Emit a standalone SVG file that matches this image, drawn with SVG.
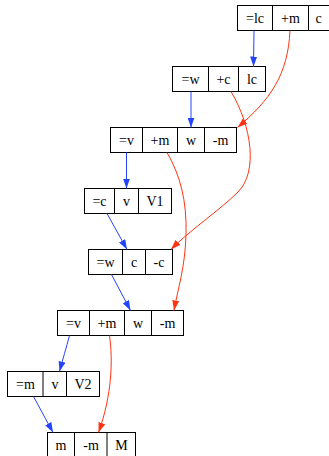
<svg xmlns="http://www.w3.org/2000/svg" width="329" height="456" viewBox="0 0 329 456">
<style>
.box{fill:#fff;stroke:#000;stroke-width:1}
.div{stroke:#000;stroke-width:1}
text{font-family:"Liberation Serif","Times New Roman",serif;font-size:14px;text-anchor:middle;fill:#000}
.b{fill:none;stroke:#2244ff;stroke-width:1;marker-end:url(#ab)}
.r{fill:none;stroke:#ff3311;stroke-width:1;marker-end:url(#ar)}
</style>
<defs>
<marker id="ab" markerUnits="userSpaceOnUse" markerWidth="10" markerHeight="7" refX="10" refY="3.5" orient="auto"><path d="M0,0 L10,3.5 L0,7 z" fill="#2244ff"/></marker>
<marker id="ar" markerUnits="userSpaceOnUse" markerWidth="10" markerHeight="7" refX="10" refY="3.5" orient="auto"><path d="M0,0 L10,3.5 L0,7 z" fill="#ff3311"/></marker>
</defs>
<rect width="329" height="456" fill="#fff"/>
<g id="nodeA">
<rect class="box" x="237.5" y="5.5" width="94" height="25"/>
<line class="div" x1="272.5" y1="5.5" x2="272.5" y2="30.5"/>
<line class="div" x1="308.5" y1="5.5" x2="308.5" y2="30.5"/>
<text x="255" y="23">=lc</text><text x="290.5" y="23">+m</text><text x="318.5" y="23">c</text>
</g>
<g id="nodeB">
<rect class="box" x="172.5" y="66.5" width="93" height="25"/>
<line class="div" x1="208.5" y1="66.5" x2="208.5" y2="91.5"/>
<line class="div" x1="238.5" y1="66.5" x2="238.5" y2="91.5"/>
<text x="190.5" y="84">=w</text><text x="223.5" y="84">+c</text><text x="252" y="84">lc</text>
</g>
<g id="nodeC">
<rect class="box" x="110.5" y="127.5" width="126" height="25"/>
<line class="div" x1="142.5" y1="127.5" x2="142.5" y2="152.5"/>
<line class="div" x1="177.5" y1="127.5" x2="177.5" y2="152.5"/>
<line class="div" x1="204.5" y1="127.5" x2="204.5" y2="152.5"/>
<text x="126.5" y="145">=v</text><text x="160" y="145">+m</text><text x="191" y="145">w</text><text x="220.5" y="145">-m</text>
</g>
<g id="nodeD">
<rect class="box" x="84.5" y="188.5" width="87" height="25"/>
<line class="div" x1="114.5" y1="188.5" x2="114.5" y2="213.5"/>
<line class="div" x1="138.5" y1="188.5" x2="138.5" y2="213.5"/>
<text x="99.5" y="206">=c</text><text x="126.5" y="206">v</text><text x="155" y="206">V1</text>
</g>
<g id="nodeE">
<rect class="box" x="88.5" y="249.5" width="84" height="25"/>
<line class="div" x1="122.5" y1="249.5" x2="122.5" y2="274.5"/>
<line class="div" x1="145.5" y1="249.5" x2="145.5" y2="274.5"/>
<text x="105.5" y="267">=w</text><text x="134" y="267">c</text><text x="159" y="267">-c</text>
</g>
<g id="nodeF">
<rect class="box" x="57.5" y="310.5" width="126" height="25"/>
<line class="div" x1="89.5" y1="310.5" x2="89.5" y2="335.5"/>
<line class="div" x1="124.5" y1="310.5" x2="124.5" y2="335.5"/>
<line class="div" x1="151.5" y1="310.5" x2="151.5" y2="335.5"/>
<text x="73.5" y="328">=v</text><text x="107" y="328">+m</text><text x="138" y="328">w</text><text x="167.5" y="328">-m</text>
</g>
<g id="nodeG">
<rect class="box" x="7.5" y="371.5" width="92" height="25"/>
<line class="div" x1="43" y1="371.5" x2="43" y2="396.5"/>
<line class="div" x1="66.5" y1="371.5" x2="66.5" y2="396.5"/>
<text x="25.5" y="389">=m</text><text x="55" y="389">v</text><text x="83" y="389">V2</text>
</g>
<g id="nodeH">
<rect class="box" x="47.5" y="432.5" width="88" height="25"/>
<line class="div" x1="74.5" y1="432.5" x2="74.5" y2="457.5"/>
<line class="div" x1="107" y1="432.5" x2="107" y2="457.5"/>
<text x="61" y="450">m</text><text x="91" y="450">-m</text><text x="121.5" y="450">M</text>
</g>
<g id="edges">
<path class="b" d="M254,30.5 L253.5,66.5"/>
<path class="b" d="M191,91.5 L191,127.5"/>
<path class="b" d="M126.5,152.5 L126.5,188.5"/>
<path class="b" d="M107,213.5 L127,249.5"/>
<path class="b" d="M111.5,274.5 L130.5,310.5"/>
<path class="b" d="M69.5,335.5 C66.5,347 62.5,360 59.5,371.5"/>
<path class="b" d="M33.5,396.5 L53,432.5"/>
<path class="r" d="M290,30.5 C288,75 270,100 237.5,127.5"/>
<path class="r" d="M231,91.5 C252,127 258,172 238,192 C220,210 190,230 171,249.5"/>
<path class="r" d="M167,152.5 C180,175 187,200 186,235 C185,268 178,288 174,310.5"/>
<path class="r" d="M109.5,335.5 C113,360 112,395 98.5,432.5"/>
</g>
</svg>
